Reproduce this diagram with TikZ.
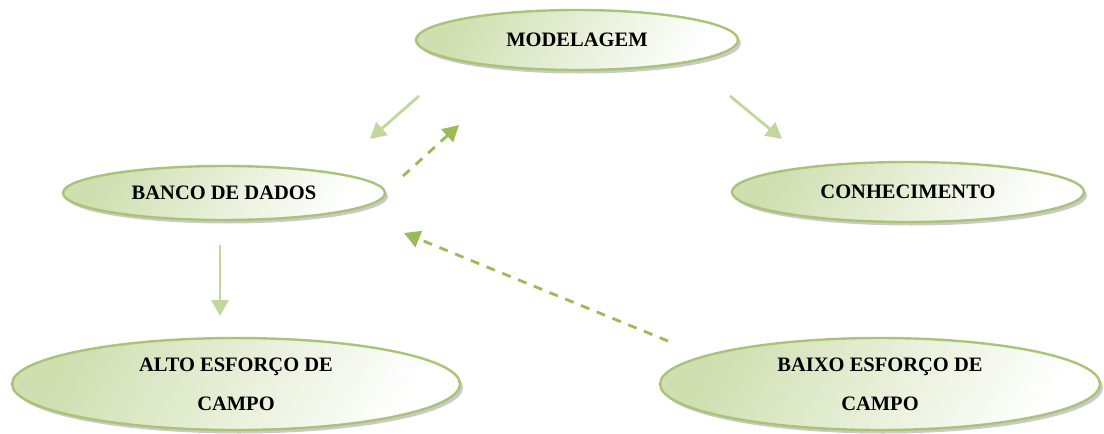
\documentclass[tikz,border=0pt]{standalone}
\usepackage{fontspec}
\setmainfont{Liberation Serif}
\usetikzlibrary{shapes.geometric,shadows,arrows.meta}
\definecolor{leaf}{HTML}{CFDFB0}
\definecolor{rim}{HTML}{A9C477}
\definecolor{lightarrow}{HTML}{C3D69B}
\definecolor{darkarrow}{HTML}{9BBB59}
\tikzset{
  oval/.style={ellipse, draw=rim, line width=2.4pt, inner sep=0pt,
    left color=leaf, right color=white, shading angle=60,
    drop shadow={shadow xshift=3pt, shadow yshift=-3.5pt, fill=black!35, opacity=0.6},
    font=\fontsize{20.5}{39}\selectfont\bfseries, align=center},
  plainarrow/.style={draw=lightarrow, line width=2.8pt,
    -{Triangle[length=16pt,width=17pt]}},
  dasharrow/.style={draw=darkarrow, line width=2.8pt, dash pattern=on 9pt off 8pt,
    -{Triangle[length=16pt,width=17pt]}}
}
\begin{document}
\begin{tikzpicture}[x=1pt,y=-1pt]
\useasboundingbox (0,0) rectangle (1104,434);
% ovals
\node[oval, minimum width=322pt, minimum height=60pt] (mod) at (577,40) {MODELAGEM};
\node[oval, minimum width=322pt, minimum height=54pt] (bd) at (224,193) {BANCO DE DADOS};
\node[oval, minimum width=352pt, minimum height=60pt] (con) at (908,192) {CONHECIMENTO};
\node[oval, minimum width=448pt, minimum height=92pt] (alto) at (236,384) {ALTO ESFORÇO DE\\CAMPO};
\node[oval, minimum width=440pt, minimum height=92pt] (baixo) at (880,384) {BAIXO ESFORÇO DE\\CAMPO};
% arrow end points
\coordinate (a1s) at (419,96);  \coordinate (a1e) at (370,139);
\coordinate (a2s) at (403,176); \coordinate (a2e) at (459,125);
\coordinate (a3s) at (730,96);  \coordinate (a3e) at (782,139);
\coordinate (a4s) at (220,245); \coordinate (a4e) at (220,316);
\coordinate (a5s) at (668,341); \coordinate (a5e) at (404,233);
% connectors
\draw[plainarrow] (a1s) -- (a1e);
\draw[dasharrow] (a2s) -- (a2e);
\draw[plainarrow] (a3s) -- (a3e);
\draw[plainarrow] (a4s) -- (a4e);
\draw[dasharrow] (a5s) -- (a5e);
\end{tikzpicture}
\end{document}
